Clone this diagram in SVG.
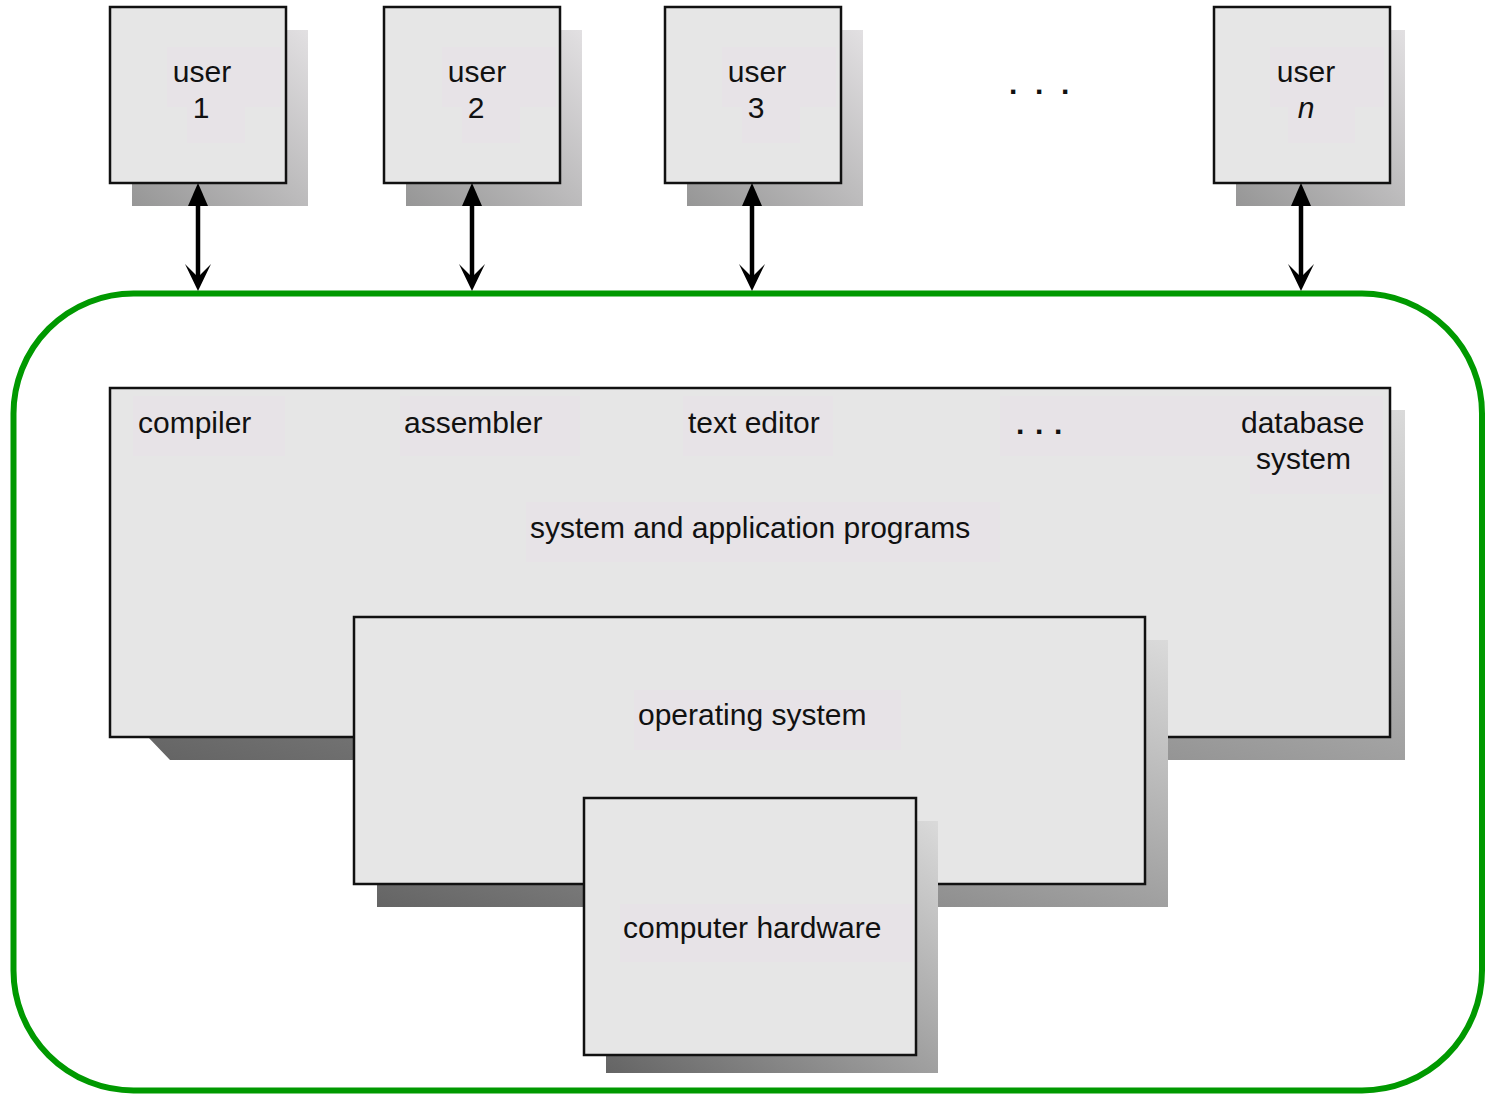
<svg xmlns="http://www.w3.org/2000/svg" width="1485" height="1095" viewBox="0 0 1485 1095">
<defs>
<linearGradient id="shU" x1="0" y1="1" x2="1" y2="0"><stop offset="0" stop-color="#969696"/><stop offset="1" stop-color="#e2e0e2"/></linearGradient>
<linearGradient id="shB" x1="0" y1="1" x2="1" y2="0"><stop offset="0" stop-color="#646464"/><stop offset="0.45" stop-color="#9a9a9a"/><stop offset="1" stop-color="#dadada"/></linearGradient>
</defs>
<style>
.box{fill:#e6e6e6;stroke:#111;stroke-width:2.5}
.tbg{fill:#e7e3e7}
.t{font-family:"Liberation Sans",Arial,sans-serif;font-size:30px;fill:#111}
.m{text-anchor:middle}
.d{font-weight:bold}
.ln{stroke:#000;stroke-width:4.5;fill:none}
.hd{fill:#000}
</style>
<rect x="13.5" y="293.5" width="1468.5" height="797" rx="120" ry="120" fill="none" stroke="#009900" stroke-width="6"/>
<g id="user1">
<rect x="132" y="30" width="176" height="176" fill="url(#shU)"/>
<rect class="box" x="110" y="7" width="176" height="176"/>
<rect class="tbg" x="167" y="47" width="114" height="60"/><rect class="tbg" x="187" y="107" width="58" height="36"/>
<text class="t m" x="202" y="82">user</text><text class="t m" x="201" y="118">1</text>
</g>
<g id="user2">
<rect x="406" y="30" width="176" height="176" fill="url(#shU)"/>
<rect class="box" x="384" y="7" width="176" height="176"/>
<rect class="tbg" x="442" y="47" width="114" height="60"/><rect class="tbg" x="462" y="107" width="58" height="36"/>
<text class="t m" x="477" y="82">user</text><text class="t m" x="476" y="118">2</text>
</g>
<g id="user3">
<rect x="687" y="30" width="176" height="176" fill="url(#shU)"/>
<rect class="box" x="665" y="7" width="176" height="176"/>
<rect class="tbg" x="722" y="47" width="114" height="60"/><rect class="tbg" x="742" y="107" width="58" height="36"/>
<text class="t m" x="757" y="82">user</text><text class="t m" x="756" y="118">3</text>
</g>
<g id="dots-top">
<text class="t d" x="1009 1022 1035 1048 1061" y="94" font-size="34">. . .</text>
</g>
<g id="usern">
<rect x="1236" y="30" width="169" height="176" fill="url(#shU)"/>
<rect class="box" x="1214" y="7" width="176" height="176"/>
<rect class="tbg" x="1270" y="47" width="114" height="60"/><rect class="tbg" x="1288" y="107" width="67" height="36"/>
<text class="t m" x="1306" y="82">user</text><text class="t m" x="1306" y="118" font-style="italic">n</text>
</g>
<g id="connectors">
<line class="ln" x1="198" y1="200" x2="198" y2="284"/>
<polygon class="hd" points="198,183 188,206 208,206"/>
<polygon class="hd" points="198,291 185,264 198,277 211,264"/>
<line class="ln" x1="472" y1="200" x2="472" y2="284"/>
<polygon class="hd" points="472,183 462,206 482,206"/>
<polygon class="hd" points="472,291 459,264 472,277 485,264"/>
<line class="ln" x1="752" y1="200" x2="752" y2="284"/>
<polygon class="hd" points="752,183 742,206 762,206"/>
<polygon class="hd" points="752,291 739,264 752,277 765,264"/>
<line class="ln" x1="1301" y1="200" x2="1301" y2="284"/>
<polygon class="hd" points="1301,183 1291,206 1311,206"/>
<polygon class="hd" points="1301,291 1288,264 1301,277 1314,264"/>
</g>
<g id="programs">
<polygon points="148,737 170,760 1405,760 1405,410 1390,410 1390,737" fill="url(#shB)"/>
<rect class="box" x="110" y="388" width="1280" height="349"/>
<rect class="tbg" x="133" y="396" width="152" height="60"/>
<rect class="tbg" x="400" y="396" width="180" height="60"/>
<rect class="tbg" x="683" y="396" width="150" height="60"/>
<rect class="tbg" x="1000" y="396" width="383" height="60"/>
<rect class="tbg" x="1250" y="456" width="133" height="38"/>
<rect class="tbg" x="526" y="502" width="474" height="60"/>
<text class="t" x="138" y="433">compiler</text>
<text class="t" x="404" y="433">assembler</text>
<text class="t" x="688" y="433">text editor</text>
<text class="t d" x="1016 1026 1035 1045 1054" y="434">. . .</text>
<text class="t" x="1241" y="433">database</text>
<text class="t" x="1256" y="469">system</text>
<text class="t" x="530" y="538">system and application programs</text>
</g>
<g id="os">
<polygon points="377,884 377,907 1168,907 1168,640 1145,640 1145,884" fill="url(#shB)"/>
<rect class="box" x="354" y="617" width="791" height="267"/>
<rect class="tbg" x="634" y="690" width="267" height="60"/>
<text class="t" x="638" y="725">operating system</text>
</g>
<g id="hardware">
<polygon points="606,1055 606,1073 938,1073 938,821 916,821 916,1055" fill="url(#shB)"/>
<rect class="box" x="584" y="798" width="332" height="257"/>
<rect class="tbg" x="620" y="904" width="293" height="58"/>
<text class="t" x="623" y="938">computer hardware</text>
</g>
</svg>
